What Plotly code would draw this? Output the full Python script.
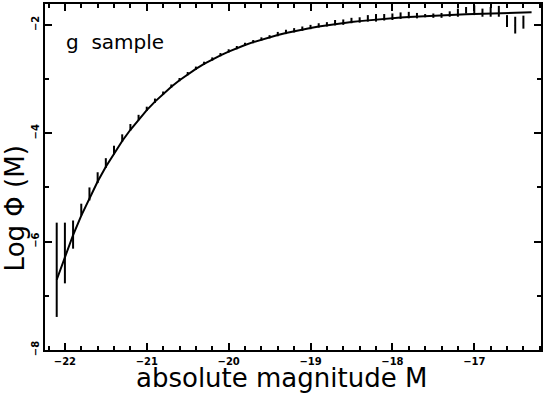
import plotly.graph_objects as go

# ---- fitted curve ----
curve_M = [-22.1, -22.0, -21.9, -21.8, -21.7, -21.6, -21.5, -21.4, -21.3, -21.2,
           -21.1, -21.0, -20.9, -20.8, -20.7, -20.6, -20.5, -20.4, -20.3, -20.2,
           -20.1, -20.0, -19.9, -19.8, -19.7, -19.6, -19.5, -19.4, -19.3, -19.2,
           -19.1, -19.0, -18.9, -18.8, -18.7, -18.6, -18.5, -18.4, -18.3, -18.2,
           -18.1, -18.0, -17.9, -17.8, -17.7, -17.6, -17.5, -17.4, -17.3, -17.2,
           -17.1, -17.0, -16.9, -16.8, -16.7, -16.6, -16.5, -16.4, -16.3]
curve_logphi = [-6.704, -6.272, -5.878, -5.519, -5.191, -4.892, -4.619, -4.370, -4.143, -3.936,
                -3.746, -3.574, -3.416, -3.273, -3.142, -3.022, -2.913, -2.813, -2.722, -2.639,
                -2.563, -2.493, -2.430, -2.372, -2.319, -2.271, -2.227, -2.186, -2.150, -2.116,
                -2.085, -2.057, -2.031, -2.007, -1.985, -1.966, -1.947, -1.931, -1.915, -1.901,
                -1.888, -1.876, -1.865, -1.855, -1.846, -1.837, -1.830, -1.822, -1.815, -1.809,
                -1.803, -1.798, -1.793, -1.788, -1.784, -1.780, -1.776, -1.773, -1.769]

# ---- data points with error bars ----
data_M = [-22.1, -22.0, -21.9, -21.8, -21.7, -21.6, -21.5, -21.4, -21.3, -21.2,
          -21.1, -21.0, -20.9, -20.8, -20.7, -20.6, -20.5, -20.4, -20.3, -20.2,
          -20.1, -20.0, -19.9, -19.8, -19.7, -19.6, -19.5, -19.4, -19.3, -19.2,
          -19.1, -19.0, -18.9, -18.8, -18.7, -18.6, -18.5, -18.4, -18.3, -18.2,
          -18.1, -18.0, -17.9, -17.8, -17.7, -17.6, -17.5, -17.4, -17.3, -17.2,
          -17.1, -17.0, -16.9, -16.8, -16.7, -16.6, -16.5, -16.4]
data_logphi = [-6.52, -6.21, -5.87, -5.41, -5.12, -4.82, -4.55, -4.31, -4.09, -3.89,
               -3.71, -3.55, -3.40, -3.26, -3.13, -3.01, -2.90, -2.80, -2.71, -2.63,
               -2.55, -2.48, -2.42, -2.36, -2.31, -2.26, -2.22, -2.17, -2.13, -2.10,
               -2.07, -2.04, -2.01, -1.99, -1.96, -1.95, -1.92, -1.91, -1.88, -1.87,
               -1.86, -1.85, -1.83, -1.82, -1.83, -1.83, -1.83, -1.825, -1.80, -1.775,
               -1.73, -1.73, -1.775, -1.76, -1.75, -1.93, -2.005, -1.95]
data_err = [0.87, 0.56, 0.26, 0.11, 0.12, 0.10, 0.09, 0.08, 0.07, 0.06,
            0.05, 0.04, 0.04, 0.03, 0.03, 0.03, 0.03, 0.03, 0.03, 0.03,
            0.03, 0.03, 0.03, 0.03, 0.03, 0.03, 0.03, 0.04, 0.04, 0.04,
            0.04, 0.04, 0.04, 0.04, 0.05, 0.05, 0.05, 0.05, 0.06, 0.07,
            0.06, 0.06, 0.06, 0.06, 0.05, 0.03, 0.04, 0.045, 0.05, 0.075,
            0.06, 0.09, 0.075, 0.09, 0.10, 0.11, 0.155, 0.12]

x_tickvals = [-22, -21, -20, -19, -18, -17]
y_tickvals = [-2, -4, -6, -8]

fig = go.Figure()
fig.add_trace(go.Scatter(
    x=data_M, y=data_logphi, mode="markers",
    marker=dict(size=1, color="black"),
    error_y=dict(type="data", array=data_err, visible=True,
                 thickness=2, width=0, color="black"),
    showlegend=False, hoverinfo="skip"))
fig.add_trace(go.Scatter(
    x=curve_M, y=curve_logphi, mode="lines",
    line=dict(color="black", width=2),
    showlegend=False))

axis_common = dict(
    showgrid=False, zeroline=False, showline=True, linecolor="black",
    linewidth=2, mirror="ticks", ticks="inside", tickcolor="black",
    tickwidth=1.5, ticklen=7,
    tickfont=dict(family="DejaVu Sans", size=10, color="black", weight="bold"),
)

fig.update_xaxes(
    range=[-22.243, -16.185], tickvals=x_tickvals, ticklabelstandoff=1,
    minor=dict(dtick=0.2, ticks="inside", ticklen=4, tickcolor="black", tickwidth=1.5),
    **axis_common)
fig.update_yaxes(
    range=[-8, -1.615], tickvals=y_tickvals, tickangle=-90, ticklabelstandoff=0,
    minor=dict(dtick=1, ticks="inside", ticklen=4, tickcolor="black", tickwidth=1.5),
    **axis_common)

fig.add_annotation(text="absolute magnitude M", xref="paper", yref="paper",
                   x=0.477, y=-0.082, xanchor="center", yanchor="middle",
                   showarrow=False,
                   font=dict(family="DejaVu Sans", size=26, color="black"))
fig.add_annotation(text="Log \u03a6 (M)", xref="paper", yref="paper",
                   x=-0.06, y=0.41, xanchor="center", yanchor="middle",
                   textangle=-90, showarrow=False,
                   font=dict(family="DejaVu Sans", size=26, color="black"))
fig.add_annotation(text="g\u00a0\u00a0sample", xref="paper", yref="paper",
                   x=0.038, y=0.891, xanchor="left", yanchor="middle",
                   showarrow=False,
                   font=dict(family="DejaVu Sans", size=20, color="black"))

fig.update_layout(
    width=545, height=393,
    margin=dict(l=45, r=2, t=2, b=43),
    paper_bgcolor="white", plot_bgcolor="white",
)

fig.write_html("out.html",
               config={"displayModeBar": False},
               post_script="document.body.style.margin='0px';document.body.style.overflow='hidden';")
